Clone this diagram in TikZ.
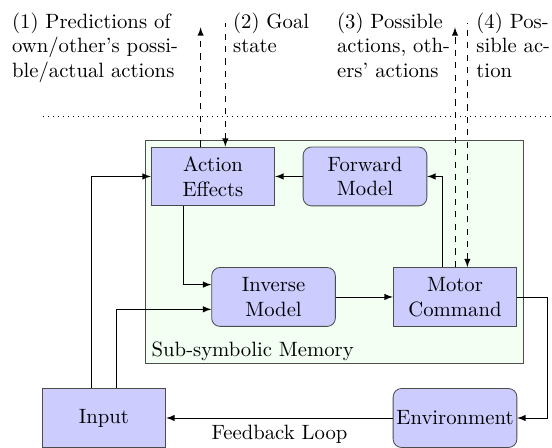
\documentclass[tikz,border=0pt]{standalone}
\usepackage{tikz}
\usetikzlibrary{calc}

\begin{document}
\begin{tikzpicture}[>=latex,
    box/.style={draw=black!70, fill=blockblue, minimum width=2.1cm, minimum height=1cm, inner sep=1pt, align=center},
    rbox/.style={box, rounded corners},
    note/.style={anchor=north west, inner sep=0pt, align=left}]
    \definecolor{blockblue}{HTML}{CCCCFF}
    \definecolor{memgreen}{HTML}{F2FFF2}
    \def\off{0.21}
    \useasboundingbox (0,0) rectangle (9.372,7.606);
    % sub-symbolic part
    \node[draw=black!70, fill=memgreen, minimum width=6.418cm, minimum height=3.786cm] (mem) at (5.671,3.336) {};
    \node[anchor=base west, inner sep=0pt] (memlabel) at ($(mem.south west)+(0.114,0.12)$) {Sub-symbolic Memory};
    \node[box] (act) at (3.616,4.610) {Action\\Effects};
    \node[rbox] (fwd) at (6.197,4.610) {Forward\\Model};
    \node[rbox] (inv) at (4.644,2.564) {Inverse\\Model};
    \node[box] (mot) at (7.725,2.564) {Motor\\Command};
    \node[box] (inp) at (1.766,0.509) {Input};
    \node[rbox] (env) at (7.725,0.509) {Environment};
    \draw[->] (fwd) -- (act);
    \draw[->] ([xshift=-\off cm]mot.north) |- (fwd.east);
    \draw[->] ([xshift=-0.51cm]act.south) |- ([yshift=\off cm]inv.west);
    \draw[->] (inv) -- (mot);
    \draw[->] ([xshift=-\off cm]inp.north) |- (act.west);
    \draw[->] ([xshift=\off cm]inp.north) |- ([yshift=-\off cm]inv.west);
    \draw[->] (mot.east) -- ++(0.51,0) |- (env.east);
    \draw[->] (env) -- node[below] (fbl) {Feedback Loop} (inp);
    % symbolic level
    \coordinate (sepL) at (0.73,5.637);
    \coordinate (sepR) at (9.372,5.637);
    \draw[dotted] (sepL) -- (sepR);
    \coordinate (outtop) at (0,7.14);
    \coordinate (intop) at (0,7.216);
    \draw[dashed,->] ([xshift=-\off cm]act.north) -- ([xshift=-\off cm]act.north |- outtop);
    \draw[dashed,<-] ([xshift=\off cm]act.north) -- ([xshift=\off cm]act.north |- intop);
    \draw[dashed,->] (mot.north) -- (mot.north |- outtop);
    \draw[dashed,<-] ([xshift=\off cm]mot.north) -- ([xshift=\off cm]mot.north |- intop);
    \node[note] (pred) at (0.199,7.40) {(1) Predictions of\\own/other's possi-\\ble/actual actions};
    \node[note] (goal) at (3.951,7.40) {(2) Goal\\state};
    \node[note] (poss) at (5.717,7.40) {(3) Possible\\actions, oth-\\ers' actions};
    \node[note] (act4) at (8.082,7.40) {(4) Pos-\\sible ac-\\tion};
\end{tikzpicture}
\end{document}
